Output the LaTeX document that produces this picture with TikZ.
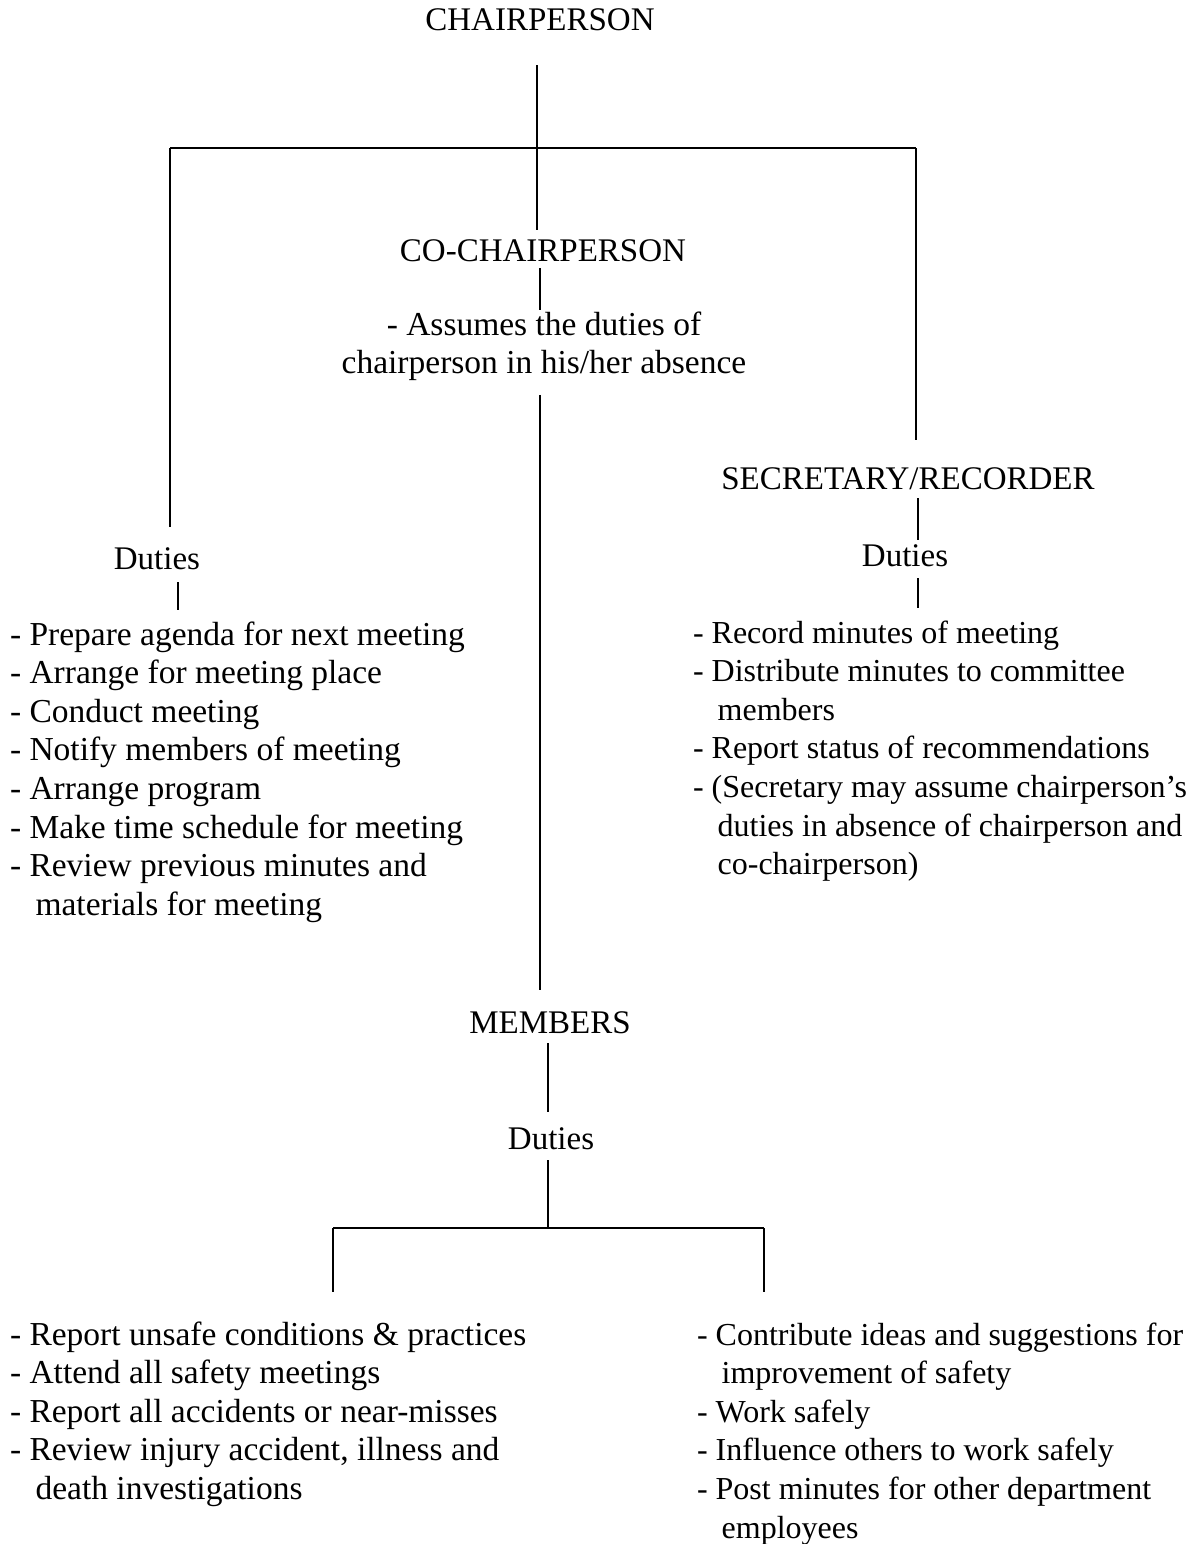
\documentclass[tikz,border=0pt]{standalone}
\usepackage{fontspec}
\setmainfont{Liberation Serif}
\begin{document}
\begin{tikzpicture}[x=1pt,y=-1pt,
  every node/.style={inner sep=0pt,outer sep=0pt},
  lbl/.style={anchor=base},
  lst/.style={anchor=north west,align=left},
  big/.style={font=\fontsize{33.5}{38.6}\selectfont},
  small/.style={font=\fontsize{32}{38.6}\selectfont},
  conn/.style={line width=1.6pt},
  font=\fontsize{33}{38.6}\selectfont]
\useasboundingbox (0,0) rectangle (1197,1544);
\newcommand{\ind}{\phantom{- }\hspace{6pt}}
% titles
\node[lbl] (chair) at (540,31) {CHAIRPERSON};
\node[lbl] (cochair) at (543,261) {CO-CHAIRPERSON};
\node[anchor=north,align=center,big] (assume) at (544,308) {\strut- Assumes the duties of\\chairperson in his/her absence};
\node[lbl] (sec) at (908,489) {SECRETARY/RECORDER};
\node[lbl] (rduties) at (905,566) {Duties};
\node[lbl] (lduties) at (157,569) {Duties};
\node[lst,big] (llist) at (10,618) {\strut- Prepare agenda for next meeting\\
- Arrange for meeting place\\
- Conduct meeting\\
- Notify members of meeting\\
- Arrange program\\
- Make time schedule for meeting\\
- Review previous minutes and\\
\ind materials for meeting};
\node[lst,small] (rlist) at (693,616) {\strut- Record minutes of meeting\\
- Distribute minutes to committee\\
\ind members\\
- Report status of recommendations\\
- (Secretary may assume chairperson's\\
\ind duties in absence of chairperson and\\
\ind co-chairperson)};
\node[lbl] (members) at (550,1033) {MEMBERS};
\node[lbl] (mduties) at (551,1149) {Duties};
\node[lst,big] (mlistL) at (10,1318) {\strut- Report unsafe conditions \& practices\\
- Attend all safety meetings\\
- Report all accidents or near-misses\\
- Review injury accident, illness and\\
\ind death investigations};
\node[lst,small] (mlistR) at (697,1318) {\strut- Contribute ideas and suggestions for\\
\ind improvement of safety\\
- Work safely\\
- Influence others to work safely\\
- Post minutes for other department\\
\ind employees};
% top bar
\coordinate (barC) at (537,148);
\coordinate (barL) at (170,148);
\coordinate (barR) at (916,148);
\draw[conn] ([yshift=-34pt]chair.south -| barC) -- ([yshift=9pt]cochair.north -| barC);
\draw[conn] (barL) -- (barR);
\draw[conn] (barL) -- ([yshift=20pt]lduties.north -| barL);
\draw[conn] (barR) -- ([yshift=27pt]sec.north -| barR);
% co-chair chain
\coordinate (cx) at (540,0);
\draw[conn] ([yshift=-7pt]cochair.south -| cx) -- ([yshift=-2pt]assume.north -| cx);
\draw[conn] ([yshift=-14pt]assume.south -| cx) -- ([yshift=21pt]members.north -| cx);
% left duties
\coordinate (lx) at (178,0);
\draw[conn] ([yshift=-13pt]lduties.south -| lx) -- ([yshift=8pt]llist.north -| lx);
% secretary
\coordinate (rx) at (918,0);
\draw[conn] ([yshift=-9pt]sec.south -| rx) -- ([yshift=4pt]rduties.north -| rx);
\draw[conn] ([yshift=-12pt]rduties.south -| rx) -- ([yshift=8pt]rlist.north -| rx);
% members
\coordinate (mx) at (548,0);
\coordinate (mbarC) at (548,1228);
\coordinate (mbarL) at (333,1228);
\coordinate (mbarR) at (764,1228);
\draw[conn] ([yshift=-10pt]members.south -| mx) -- ([yshift=15pt]mduties.north -| mx);
\draw[conn] ([yshift=-11pt]mduties.south -| mx) -- (mbarC);
\draw[conn] (mbarL) -- (mbarR);
\draw[conn] (mbarL) -- ([yshift=26pt]mlistL.north -| mbarL);
\draw[conn] (mbarR) -- ([yshift=26pt]mlistR.north -| mbarR);
\end{tikzpicture}
\end{document}
